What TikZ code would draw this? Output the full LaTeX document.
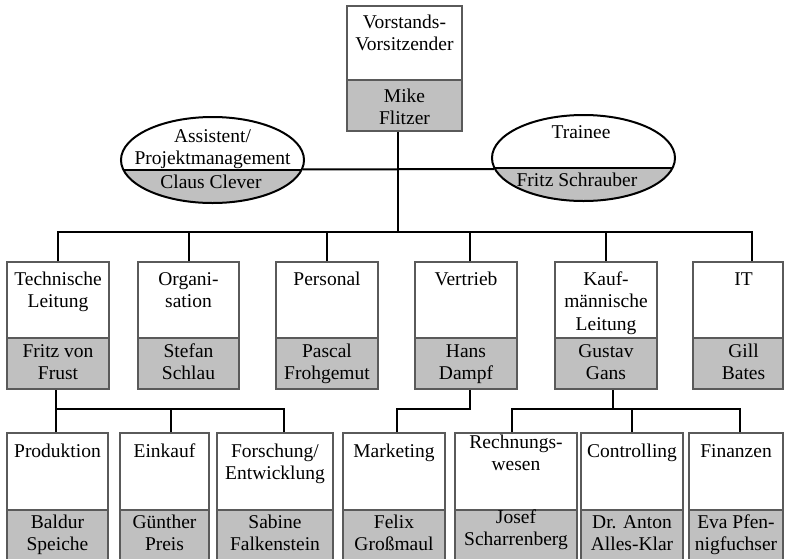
\documentclass[tikz,border=0pt]{standalone}
\usepackage{fontspec}
\setmainfont{Liberation Serif}
\usetikzlibrary{shapes.geometric}
\definecolor{boxline}{HTML}{5A5A5A}
\definecolor{gfill}{HTML}{C0C0C0}
\def\topoff{22}
\def\botoff{22}
\def\txtdx{0}
\tikzset{
  wbox/.style={rectangle, draw=boxline, line width=2pt, fill=white, inner sep=0pt},
  gbox/.style={rectangle, draw=boxline, line width=2pt, fill=gfill, inner sep=0pt},
  txt/.style={align=center, anchor=north, inner sep=0pt, font=\fontsize{19.5}{22.5}\selectfont},
  ell/.style={ellipse, draw=black, line width=2pt, inner sep=0pt, minimum width=183pt, minimum height=86pt},
  conn/.style={draw=black, line width=2pt}
}
\newcommand\orgbox[8]{%
  \node[wbox, minimum width={(#3-#2)*1pt}, minimum height={(#5-#4)*1pt}] (#1w) at ({(#2+#3)/2},{(#4+#5)/2}) {};
  \node[gbox, minimum width={(#3-#2)*1pt}, minimum height={(#6-#5)*1pt}] (#1g) at ({(#2+#3)/2},{(#5+#6)/2}) {};
  \node[txt] (#1wt) at ({(#2+#3)/2+\txtdx},{#4+\topoff-15.75}) {\strut #7};
  \node[txt] (#1gt) at ({(#2+#3)/2+\txtdx},{#5+\botoff-15.75}) {\strut #8};
}
\begin{document}
\begin{tikzpicture}[x=1pt, y=-1pt]
\fill[white] (0,0) rectangle (785,558);
\useasboundingbox (0,0) rectangle (785,558);

% top box
\def\topoff{22}\def\botoff{22}
\orgbox{top}{347}{462}{6}{80}{131}{Vorstands-\\Vorsitzender}{Mike\\Flitzer}

% ellipses
\begin{scope}
  \clip (212.5,160) ellipse [x radius=91.5, y radius=43];
  \fill[gfill] (100,170) rectangle (320,210);
  \draw[conn] (100,170) -- (320,170);
\end{scope}
\begin{scope}
  \clip (583.5,158) ellipse [x radius=91.5, y radius=43];
  \fill[gfill] (480,168) rectangle (700,210);
  \draw[conn] (480,168) -- (700,168);
\end{scope}
\node[ell] (asst) at (212.5,160) {};
\node[ell] (trainee) at (583.5,158) {};
\node[txt] (asstt) at (212.5,{142-15.75}) {\strut Assistent/\\Projektmanagement};
\node[txt] (asstn) at (211,{188-15.75}) {\strut Claus Clever};
\node[txt] (traineet) at (581,{138-15.75}) {\strut Trainee};
\node[txt] (traineen) at (577,{186-15.75}) {\strut Fritz Schrauber};

% row 2
\def\topoff{23}\def\botoff{19}
\orgbox{r21}{7}{109}{262}{338}{389}{Technische\\Leitung}{Fritz von\\Frust}
\orgbox{r22}{138}{239}{262}{338}{389}{Organi-\\sation}{Stefan\\Schlau}
\orgbox{r23}{276}{378}{262}{338}{389}{Personal}{Pascal\\Frohgemut}
\orgbox{r24}{415}{517}{262}{338}{389}{Vertrieb}{Hans\\Dampf}
\orgbox{r25}{555}{657}{262}{338}{389}{Kauf-\\männische\\Leitung}{Gustav\\Gans}
\def\txtdx{5.5}
\orgbox{r26}{693}{783}{262}{338}{389}{IT}{Gill\\Bates}
\def\txtdx{0}

% row 3
\def\topoff{24}\def\botoff{18}
\orgbox{r31}{7}{108}{433}{510}{566}{Produktion}{Baldur\\Speiche}
\orgbox{r32}{120}{209}{433}{510}{566}{Einkauf}{Günther\\Preis}
\orgbox{r33}{217}{333}{433}{510}{566}{Forschung/\\Entwicklung}{Sabine\\Falkenstein}
\orgbox{r34}{343}{445}{433}{510}{566}{Marketing}{Felix\\Großmaul}
\def\topoff{15}\def\botoff{13}
\orgbox{r35}{455}{577}{433}{510}{566}{Rechnungs-\\wesen}{Josef\\Scharrenberg}
\def\topoff{24}\def\botoff{18}
\orgbox{r36}{581}{683}{433}{510}{566}{Controlling}{Dr. Anton\\Alles-Klar}
\orgbox{r37}{689}{783}{433}{510}{566}{Finanzen}{Eva Pfen-\\nigfuchser}

% connectors
\coordinate (barA) at (398,232);
\draw[conn] ([xshift=-6.5pt]topg.south) -- (barA);
\draw[conn] (asst.-6.4) -- (trainee.187.8);
\draw[conn] (r21w.north) |- (barA);
\draw[conn] (r22w.north) |- (barA);
\draw[conn] (r23w.north) |- (barA);
\draw[conn] ([xshift=4pt]r24w.north) |- (barA);
\draw[conn] (r25w.north) |- (barA);
\draw[conn] ([xshift=14pt]r26w.north) |- (barA);

\coordinate (barB) at (56,409);
\draw[conn] ([xshift=-2pt]r21g.south) -- (barB);
\draw[conn] ([xshift=-1.5pt]r31w.north) |- (barB);
\draw[conn] ([xshift=6.5pt]r32w.north) |- (barB);
\draw[conn] ([xshift=9pt]r33w.north) |- (barB);

\draw[conn] ([xshift=4pt]r24g.south) -- ++(0,19) -| ([xshift=3pt]r34w.north);

\coordinate (barC) at (613,409);
\draw[conn] ([xshift=7pt]r25g.south) -- (barC);
\draw[conn] ([xshift=-4pt]r35w.north) |- (barC);
\draw[conn] (r36w.north) |- (barC);
\draw[conn] ([xshift=4pt]r37w.north) |- (barC);
\end{tikzpicture}
\end{document}
